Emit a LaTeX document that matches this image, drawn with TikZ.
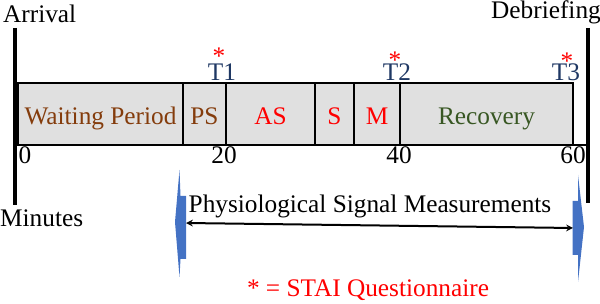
\documentclass[tikz,border=0pt]{standalone}
\usepackage{fontspec}
\setmainfont{Liberation Serif}
\definecolor{phbrown}{RGB}{132,60,12}
\definecolor{phgreen}{RGB}{56,87,35}
\definecolor{phnavy}{RGB}{31,56,100}
\definecolor{phblue}{RGB}{68,114,196}
\definecolor{phgray}{RGB}{224,224,224}
\tikzset{
  blk/.style={draw=black, line width=1.5pt, fill=phgray, minimum height=62pt, inner sep=0pt,
    text height=22pt, text depth=0pt, font=\fontsize{25.3}{29}\selectfont},
  lbl/.style={inner sep=0pt, anchor=base, font=\fontsize{25.3}{29}\selectfont},
  star/.style={lbl, text=red, text depth=-9pt},
  bar/.style={line width=3.5pt},
}
\begin{document}
\begin{tikzpicture}[x=1pt, y=-1pt, >=stealth]
\useasboundingbox (0,0) rectangle (600,304);
% start and end bars
\coordinate (arrT) at (15,28);
\coordinate (arrB) at (15,205);
\coordinate (debT) at (588,28);
\coordinate (debB) at (588,203);
\draw[bar] (arrT) -- (arrB);
\draw[bar] (debT) -- (debB);
\node[lbl, anchor=base west] (arrival) at (3,23) {Arrival};
\node[lbl, anchor=base west] (debrief) at (491,19) {Debriefing};
\node[lbl, anchor=base west] (minutes) at (0,227) {Minutes};
% session blocks
\foreach \a/\b/\nm/\txt/\col in {18/183/wait/Waiting Period/phbrown, 183/226/ps/PS/phbrown,
    226/315/as/AS/red, 315/354/s/S/red, 354/400/m/M/red, 400/573/rec/Recovery/phgreen}
  \node[blk, text=\col, minimum width={(\b-\a)*1pt}] (\nm) at ({(\a+\b)/2},114) {\txt};
\coordinate (axL) at (15,145);
\coordinate (axR) at (588,145);
\draw[line width=2pt] (axL) -- (axR);
% minutes
\node[lbl] (t0) at (25,164) {0};
\node[lbl] (t20) at (224,164) {20};
\node[lbl] (t40) at (399,164) {40};
\node[lbl] (t60) at (573,164) {60};
% STAI points
\node[lbl, text=phnavy] (T1) at (222,81) {T1};
\node[lbl, text=phnavy] (T2) at (397,81) {T2};
\node[lbl, text=phnavy] (T3) at (566,81) {T3};
\node[star] (s1) at (219,65) {*};
\node[star] (s2) at (395,69) {*};
\node[star] (s3) at (567,70) {*};
% measurement span
\fill[phblue] (179.5,170) -- (180.5,196) -- (186,196) -- (186,259) -- (180.5,259) -- (179.5,277) -- (175,222) -- cycle;
\fill[phblue] (578,175) -- (584,227) -- (578,282) -- (578,255) -- (572.7,255) -- (572.7,201) -- (578,201) -- cycle;
\coordinate (msL) at (186,223);
\coordinate (msR) at (573,228);
\draw[<->, line width=2pt] (msL) -- (msR);
\node[lbl] (phys) at (370,213) {Physiological Signal Measurements};
\node[lbl, text=red] (stai) at (368,297) {* = STAI Questionnaire};
\end{tikzpicture}
\end{document}
